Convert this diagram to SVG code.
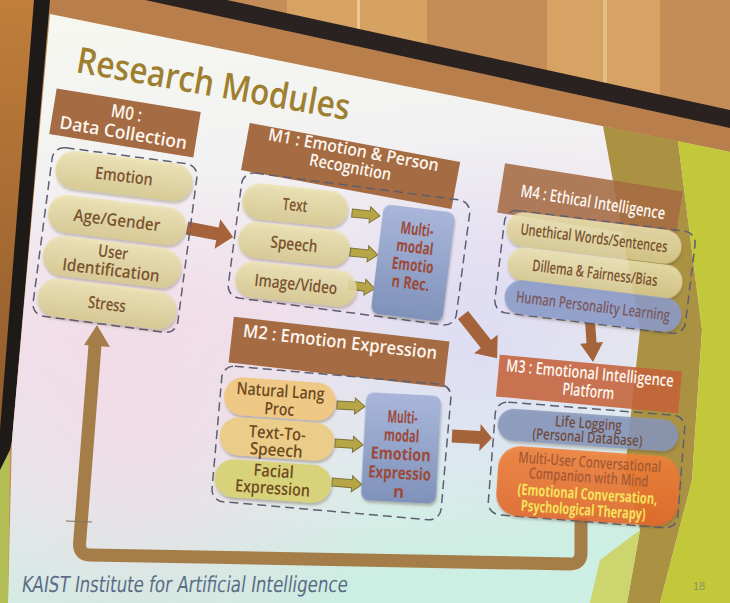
<svg xmlns="http://www.w3.org/2000/svg" width="730" height="603" viewBox="0 0 730 603">
<defs>
<linearGradient id="gSlide" x1="0" y1="0" x2="0.15" y2="1">
<stop offset="0" stop-color="#f6f8f0"/>
<stop offset="0.3" stop-color="#f2f1f2"/>
<stop offset="0.55" stop-color="#eee2ed"/>
<stop offset="0.78" stop-color="#e0ecee"/>
<stop offset="1" stop-color="#cdeee2"/>
</linearGradient>
<radialGradient id="gPink" cx="140" cy="420" r="260" gradientUnits="userSpaceOnUse">
<stop offset="0" stop-color="#f4d8e4" stop-opacity="0.8"/>
<stop offset="1" stop-color="#f4d8e4" stop-opacity="0"/>
</radialGradient>
<radialGradient id="gLav" cx="480" cy="330" r="200" gradientUnits="userSpaceOnUse">
<stop offset="0" stop-color="#dcdcf4" stop-opacity="0.9"/>
<stop offset="1" stop-color="#dcdcf4" stop-opacity="0"/>
</radialGradient>
<linearGradient id="gWallL" x1="0" y1="0" x2="0" y2="1">
<stop offset="0" stop-color="#c07e3a"/>
<stop offset="1" stop-color="#8e5a2c"/>
</linearGradient>
<linearGradient id="gBeige" x1="0" y1="0" x2="0" y2="1">
<stop offset="0" stop-color="#ede3b2"/>
<stop offset="1" stop-color="#d8ca8e"/>
</linearGradient>
<linearGradient id="gBlue" x1="0" y1="0" x2="0" y2="1">
<stop offset="0" stop-color="#a9b6da"/>
<stop offset="1" stop-color="#7f92ba"/>
</linearGradient>
<linearGradient id="gOrange" x1="0" y1="0" x2="0" y2="1">
<stop offset="0" stop-color="#f08038"/>
<stop offset="1" stop-color="#e4682a"/>
</linearGradient>
<filter id="sh" x="-10%" y="-20%" width="120%" height="150%">
<feDropShadow dx="1" dy="2.5" stdDeviation="1.2" flood-color="#5a4a30" flood-opacity="0.35"/>
</filter>
<style>
text{font-family:"Open Sans","Noto Sans","DejaVu Sans",sans-serif;text-anchor:middle}
.hdr{fill:#a56b43}
.hdr3{fill:#c4623a}
.ht{fill:#fdf6ee;font-weight:600;font-size:17px}
.box{fill:none;stroke:#5d5f70;stroke-width:1.5;stroke-dasharray:9 5}
.pill{fill:url(#gBeige);filter:url(#sh);fill-opacity:0.85}
.pt{fill:#7a5330;font-weight:600;font-size:17px}
.blue{fill:url(#gBlue);filter:url(#sh)}
.bt{fill:#9c4a3a;font-weight:700;font-size:17px}
.arr{fill:#a5633b}
.sarr{fill:#b6a646;stroke:#7f7338;stroke-width:1}
</style>
</defs>

<!-- background photo surroundings -->
<rect x="0" y="0" width="730" height="603" fill="#c48d57"/>
<rect x="287" y="0" width="70" height="70" fill="#d7a363"/>
<rect x="357" y="0" width="3" height="70" fill="#ecc890"/>
<rect x="360" y="0" width="67" height="80" fill="#d6a261"/>
<rect x="547" y="0" width="56" height="110" fill="#d6a364"/>
<rect x="603" y="0" width="4" height="110" fill="#e2bd86"/>
<rect x="607" y="0" width="53" height="120" fill="#d6a364"/>
<polygon points="0,0 36,0 0,440" fill="url(#gWallL)"/>
<polygon points="48,0 145,0 730,128 730,160 50,14" fill="#b87e4c"/>
<polygon points="145,0 227,0 730,110 730,128" fill="#2a2220"/>
<polygon points="34,0 50,0 12,440 6,470 0,470 0,430" fill="#1e1a18"/>
<polygon points="50,14 730,152 730,603 8,603 12,440" fill="url(#gSlide)"/>
<polygon points="50,14 730,152 730,603 8,603 12,440" fill="url(#gPink)"/>
<polygon points="50,14 730,152 730,603 8,603 12,440" fill="url(#gLav)"/>
<polygon points="0,470 10,450 8,603 0,603" fill="#b4bf55"/>
<polygon points="603,126 678,141 702,330 692,480 660,603 627,603 640,530 625,470 640,330" fill="#ab9242"/>
<polygon points="678,141 730,152 730,603 660,603 692,480 702,330" fill="#c3c83b"/>
<polygon points="600,560 640,530 627,603 590,603" fill="#cdd56e"/>

<!-- title -->
<text transform="translate(75,72) rotate(10)" x="0" y="0" style="text-anchor:start;font-size:36px;font-weight:600;fill:#9e7f30" textLength="277" lengthAdjust="spacingAndGlyphs">Research Modules</text>

<!-- connectors -->
<g id="connectors">
<path d="M581,518 L581,553 Q581,564 570,564 L90,555 Q79.5,555 79.5,544 L95,345" fill="none" stroke="#a47d48" stroke-width="13" stroke-linejoin="round"/>
<polygon points="97,325 110,347 84,345" fill="#a47d48"/>
<line x1="66" y1="521" x2="92" y2="522" stroke="#7f7560" stroke-width="1.2"/>
<path class="arr" transform="translate(187,228) rotate(11)" d="M0,-6.5 H31 V-15 L47,0 L31,15 V6.5 H0 Z"/>
<path class="arr" transform="translate(463,315) rotate(51.7)" d="M0,-6.5 H37 V-15 L55,0 L37,15 V6.5 H0 Z"/>
<path class="arr" transform="translate(452,436) rotate(3)" d="M0,-6.5 H28 V-13.5 L40,0 L28,13.5 V6.5 H0 Z"/>
<path class="arr" transform="translate(590,322) rotate(85.7)" d="M0,-5 H21 V-11.5 L40,0 L21,11.5 V5 H0 Z"/>
<path class="sarr" transform="translate(352,213) rotate(6)" d="M0,-4 H18 V-8 L28,0 L18,8 V4 H0 Z"/>
<path class="sarr" transform="translate(350,252) rotate(6)" d="M0,-4 H18 V-8 L28,0 L18,8 V4 H0 Z"/>
<path class="sarr" transform="translate(349,285) rotate(8)" d="M0,-4 H16 V-8 L26,0 L16,8 V4 H0 Z"/>
<path class="sarr" transform="translate(337,405) rotate(3)" d="M0,-4 H18 V-8 L28,0 L18,8 V4 H0 Z"/>
<path class="sarr" transform="translate(335,443) rotate(4)" d="M0,-4 H18 V-8 L28,0 L18,8 V4 H0 Z"/>
<path class="sarr" transform="translate(332,482) rotate(5)" d="M0,-4 H20 V-8 L30,0 L20,8 V4 H0 Z"/>
</g>

<!-- M0 -->
<g id="m0-header" transform="translate(125,123) rotate(9.3)">
<rect class="hdr" x="-73" y="-23" width="146" height="46"/>
<text class="ht" x="0" y="-4" style="font-size:18px" textLength="31" lengthAdjust="spacingAndGlyphs">M0 :</text>
<text class="ht" x="0" y="16" style="font-size:18px" textLength="129" lengthAdjust="spacingAndGlyphs">Data Collection</text>
</g>
<g id="m0-box" transform="translate(115,240) rotate(7.5)">
<rect class="box" x="-73" y="-85" width="146" height="170" rx="12"/>
</g>
<g id="m0-emotion" transform="translate(124,176) rotate(7)">
<rect class="pill" x="-69" y="-19" width="138" height="38" rx="19"/>
<text class="pt" x="0" y="6" textLength="58" lengthAdjust="spacingAndGlyphs">Emotion</text>
</g>
<g id="m0-age" transform="translate(117,220) rotate(7)">
<rect class="pill" x="-69.5" y="-19" width="139" height="38" rx="19"/>
<text class="pt" x="0" y="6" textLength="87" lengthAdjust="spacingAndGlyphs">Age/Gender</text>
</g>
<g id="m0-user" transform="translate(112,262) rotate(7)">
<rect class="pill" x="-69.5" y="-20" width="139" height="40" rx="20"/>
<text class="pt" x="0" y="-4" textLength="30" lengthAdjust="spacingAndGlyphs">User</text>
<text class="pt" x="0" y="14" textLength="98" lengthAdjust="spacingAndGlyphs">Identification</text>
</g>
<g id="m0-stress" transform="translate(107,304) rotate(7)">
<rect class="pill" x="-70" y="-19" width="140" height="38" rx="19"/>
<text class="pt" x="0" y="6" textLength="38" lengthAdjust="spacingAndGlyphs">Stress</text>
</g>

<!-- M1 -->
<g id="m1-header" transform="translate(350.6,166) rotate(10.5)">
<rect class="hdr" x="-107" y="-24" width="214" height="48"/>
<text class="ht" x="0" y="-10.5" textLength="173" lengthAdjust="spacingAndGlyphs">M1 : Emotion &amp; Person</text>
<text class="ht" x="0" y="7" textLength="83" lengthAdjust="spacingAndGlyphs">Recognition</text>
</g>
<g id="m1-box" transform="translate(349,249) rotate(7.5)">
<rect class="box" x="-115" y="-63" width="230" height="126" rx="12"/>
</g>
<g id="m1-text" transform="translate(295,205) rotate(6)">
<rect class="pill" x="-53" y="-18" width="106" height="36" rx="18"/>
<text class="pt" x="0" y="6" textLength="25" lengthAdjust="spacingAndGlyphs">Text</text>
</g>
<g id="m1-speech" transform="translate(294,244) rotate(6)">
<rect class="pill" x="-56" y="-18" width="112" height="36" rx="18"/>
<text class="pt" x="0" y="6" textLength="47" lengthAdjust="spacingAndGlyphs">Speech</text>
</g>
<g id="m1-image" transform="translate(296,284) rotate(6)">
<rect class="pill" x="-61" y="-18" width="122" height="36" rx="18"/>
<text class="pt" x="0" y="6" textLength="83" lengthAdjust="spacingAndGlyphs">Image/Video</text>
</g>
<g id="m1-multimodal" transform="translate(413,263) rotate(7)">
<rect class="blue" x="-36" y="-55" width="72" height="110" rx="8"/>
<text class="bt" x="0" y="-28" textLength="33" lengthAdjust="spacingAndGlyphs">Multi-</text>
<text class="bt" x="0" y="-10" textLength="37" lengthAdjust="spacingAndGlyphs">modal</text>
<text class="bt" x="0" y="8" textLength="42" lengthAdjust="spacingAndGlyphs">Emotio</text>
<text class="bt" x="0" y="26" textLength="38" lengthAdjust="spacingAndGlyphs">n Rec.</text>
</g>

<!-- M4 -->
<g id="m4-header" transform="translate(590,202) rotate(9)">
<rect class="hdr" x="-90" y="-25" width="180" height="50" fill-opacity="0.88"/>
<text class="ht" x="3" y="5.5" textLength="146" lengthAdjust="spacingAndGlyphs">M4 : Ethical Intelligence</text>
</g>
<g id="m4-box" transform="translate(595,272) rotate(7)">
<rect class="box" x="-96" y="-51.5" width="192" height="103" rx="12"/>
</g>
<g id="m4-unethical" transform="translate(594,238) rotate(7)">
<rect class="pill" x="-88" y="-17" width="176" height="34" rx="17"/>
<text class="pt" x="0" y="5.5" style="font-size:16px" textLength="148" lengthAdjust="spacingAndGlyphs">Unethical Words/Sentences</text>
</g>
<g id="m4-dillema" transform="translate(595,273) rotate(7)">
<rect class="pill" x="-88" y="-17" width="176" height="34" rx="17"/>
<text class="pt" x="0" y="5.5" style="font-size:16px" textLength="126" lengthAdjust="spacingAndGlyphs">Dillema &amp; Fairness/Bias</text>
</g>
<g id="m4-human" transform="translate(593,306) rotate(7)">
<rect x="-89" y="-17" width="178" height="34" rx="17" fill="#8c9ecb" fill-opacity="0.85" filter="url(#sh)"/>
<text class="pt" x="0" y="5.5" style="font-size:16px;fill:#7b5a62" textLength="155" lengthAdjust="spacingAndGlyphs">Human Personality Learning</text>
</g>

<!-- M2 -->
<g id="m2-header" transform="translate(339,352) rotate(6.6)">
<rect class="hdr" x="-108.5" y="-23" width="217" height="46"/>
<text class="ht" x="0" y="-4" style="font-size:18px" textLength="195" lengthAdjust="spacingAndGlyphs">M2 : Emotion Expression</text>
</g>
<g id="m2-box" transform="translate(331.5,443) rotate(5)">
<rect class="box" x="-115" y="-68" width="230" height="136" rx="12"/>
</g>
<g id="m2-nlp" transform="translate(280,399) rotate(4)">
<rect x="-56" y="-19" width="112" height="38" rx="19" fill="#efc885" filter="url(#sh)"/>
<text class="pt" x="0" y="-2" style="fill:#6e4a22" textLength="88" lengthAdjust="spacingAndGlyphs">Natural Lang</text>
<text class="pt" x="0" y="16" style="fill:#6e4a22" textLength="30" lengthAdjust="spacingAndGlyphs">Proc</text>
</g>
<g id="m2-tts" transform="translate(277,439) rotate(4)">
<rect x="-57.5" y="-19" width="115" height="38" rx="19" fill="#ebcd89" filter="url(#sh)"/>
<text class="pt" x="0" y="0" style="fill:#6e4a22" textLength="57" lengthAdjust="spacingAndGlyphs">Text-To-</text>
<text class="pt" x="0" y="17" style="fill:#6e4a22" textLength="53" lengthAdjust="spacingAndGlyphs">Speech</text>
</g>
<g id="m2-facial" transform="translate(273,481) rotate(4)">
<rect x="-58.5" y="-19" width="117" height="38" rx="19" fill="#d8d27a" filter="url(#sh)"/>
<text class="pt" x="0" y="-4" style="fill:#6e4a22" textLength="40" lengthAdjust="spacingAndGlyphs">Facial</text>
<text class="pt" x="0" y="13" style="fill:#6e4a22" textLength="75" lengthAdjust="spacingAndGlyphs">Expression</text>
</g>
<g id="m2-multimodal" transform="translate(401,448) rotate(3)">
<rect class="blue" x="-37.5" y="-54" width="75" height="108" rx="8"/>
<text class="bt" x="0" y="-25" textLength="30" lengthAdjust="spacingAndGlyphs">Multi-</text>
<text class="bt" x="0" y="-6.5" textLength="35" lengthAdjust="spacingAndGlyphs">modal</text>
<text class="bt" x="0" y="12" textLength="60" lengthAdjust="spacingAndGlyphs">Emotion</text>
<text class="bt" x="0" y="31" textLength="63" lengthAdjust="spacingAndGlyphs">Expressio</text>
<text class="bt" x="0" y="49.5">n</text>
</g>

<!-- M3 -->
<g id="m3-header" transform="translate(589,384) rotate(5.3)">
<rect class="hdr3" x="-91.5" y="-21" width="183" height="42" fill-opacity="0.88"/>
<text class="ht" x="0" y="-5" textLength="168" lengthAdjust="spacingAndGlyphs">M3 : Emotional Intelligence</text>
<text class="ht" x="0" y="13" textLength="52" lengthAdjust="spacingAndGlyphs">Platform</text>
</g>
<g id="m3-box" transform="translate(586.5,465) rotate(4.5)">
<rect class="box" x="-95" y="-56.5" width="190" height="113" rx="12"/>
</g>
<g id="m3-lifelog" transform="translate(588,430) rotate(4)">
<rect x="-90.5" y="-16" width="181" height="32" rx="16" fill="#8697bb" fill-opacity="0.85" filter="url(#sh)"/>
<text class="pt" x="0" y="-1.5" style="font-size:15px;fill:#6e4c40" textLength="67" lengthAdjust="spacingAndGlyphs">Life Logging</text>
<text class="pt" x="0" y="12.5" style="font-size:15px;fill:#6e4c40" textLength="110" lengthAdjust="spacingAndGlyphs">(Personal Database)</text>
</g>
<g id="m3-companion" transform="translate(588,486) rotate(4)">
<rect x="-91" y="-35" width="182" height="70" rx="22" fill="url(#gOrange)" fill-opacity="0.88" filter="url(#sh)"/>
<text class="pt" x="0" y="-18.5" style="font-size:15.5px;fill:#a55a34" textLength="143" lengthAdjust="spacingAndGlyphs">Multi-User Conversational</text>
<text class="pt" x="0" y="-3.5" style="font-size:15.5px;fill:#a55a34" textLength="120" lengthAdjust="spacingAndGlyphs">Companion with Mind</text>
<text class="pt" x="0" y="13.5" style="font-size:15.5px;fill:#f6e25a;font-weight:700" textLength="140" lengthAdjust="spacingAndGlyphs">(Emotional Conversation,</text>
<text class="pt" x="-3" y="29.5" style="font-size:15.5px;fill:#f6e25a;font-weight:700" textLength="125" lengthAdjust="spacingAndGlyphs">Psychological Therapy)</text>
</g>

<!-- footer -->
<text transform="translate(21,592) skewX(-8)" x="0" y="0" style="text-anchor:start;font-family:'Liberation Sans Narrow','DejaVu Sans Condensed','Open Sans',sans-serif;font-size:22px;fill:#5b6c86" textLength="326" lengthAdjust="spacingAndGlyphs">KAIST Institute for Artificial Intelligence</text>
<text x="699" y="590" style="font-size:11px;fill:#8a9466;font-family:'Liberation Sans',sans-serif">18</text>
</svg>
